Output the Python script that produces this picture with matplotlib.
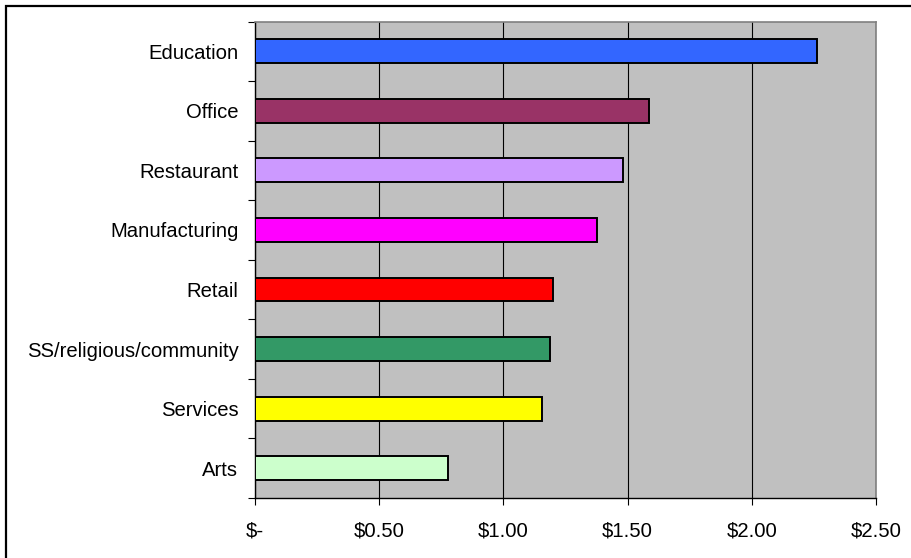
import numpy as np
import matplotlib
matplotlib.use("Agg")
import matplotlib.pyplot as plt
from matplotlib.patches import Rectangle
from matplotlib.ticker import FuncFormatter, FixedLocator

# values, top to bottom
categories = ["Education", "Office", "Restaurant", "Manufacturing", "Retail",
              "SS/religious/community", "Services", "Arts"]
values = [2.263, 1.588, 1.483, 1.375, 1.199, 1.187, 1.157, 0.775]
colors = ["#3366FF", "#993366", "#CC99FF", "#FF00FF", "#FF0000",
          "#339966", "#FFFF00", "#CCFFCC"]
x_ticks = [0, 0.5, 1.0, 1.5, 2.0, 2.5]

plt.rcParams["font.family"] = ["Liberation Sans", "DejaVu Sans"]

fig = plt.figure(figsize=(9.12, 5.58), dpi=100)
ax = fig.add_axes([255 / 912, 1 - 498 / 558, (876 - 255) / 912, (498 - 21.5) / 558])
ax.set_facecolor("#C0C0C0")

n = len(categories)
ypos = np.arange(n)[::-1]
ax.barh(ypos, values, height=0.4, color=colors, edgecolor="black",
        linewidth=1.4, zorder=3)

ax.set_xlim(0, 2.5)
ax.set_ylim(-0.5, n - 0.5)

# x axis
ax.set_xticks(x_ticks)
ax.xaxis.set_major_formatter(FuncFormatter(lambda v, p: "$-" if v == 0 else f"${v:.2f}"))
ax.tick_params(axis="x", direction="out", length=5, width=0.8, pad=12,
               labelsize=14.6, color="black")
ax.grid(axis="x", color="black", linewidth=0.8, zorder=1)

# y axis: labels at centres, tick marks at category boundaries
ax.set_yticks(ypos)
ax.set_yticklabels(categories)
ax.tick_params(axis="y", which="major", length=0, pad=12, labelsize=14.6)
ax.yaxis.set_minor_locator(FixedLocator(np.arange(n + 1) - 0.5))
ax.tick_params(axis="y", which="minor", direction="out", length=5, width=0.8,
               color="black")

for side in ["left", "bottom"]:
    ax.spines[side].set_color("black")
    ax.spines[side].set_linewidth(1.0)
for side in ["top", "right"]:
    ax.spines[side].set_color("#808080")
    ax.spines[side].set_linewidth(1.2)

# chart area border (only top/left visible in the image)
fig.patches.append(Rectangle((6 / 912, -0.1), 1.2, (558 - 6) / 558 + 0.1,
                             transform=fig.transFigure, fill=False,
                             edgecolor="black", linewidth=1.6))

fig.savefig("out.png", dpi=100)
